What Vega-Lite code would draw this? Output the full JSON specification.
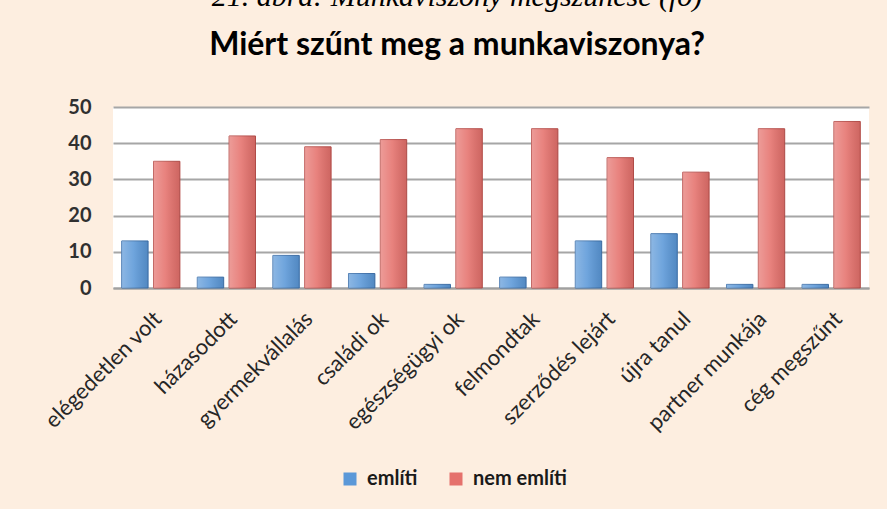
{
  "$schema": "https://vega.github.io/schema/vega-lite/v6.json",
  "autosize": {"type": "none"},
  "width": 756,
  "height": 181,
  "padding": {"left": 113, "top": 107, "right": 18, "bottom": 221},
  "background": "#fdeee0",
  "title": {
    "text": "21. ábra: Munkaviszony megszűnése (fő)",
    "subtitle": "Miért szűnt meg a munkaviszonya?",
    "anchor": "middle",
    "frame": "group",
    "dx": -34,
    "offset": 36,
    "font": "Liberation Serif",
    "fontStyle": "italic",
    "fontWeight": "normal",
    "fontSize": 30,
    "color": "#000000",
    "subtitleFont": "Lato",
    "subtitleFontWeight": "bold",
    "subtitleFontSize": 32,
    "subtitleColor": "#000000",
    "subtitlePadding": 18
  },
  "config": {
    "view": {"fill": "white", "stroke": null},
    "axis": {"labelFont": "Lato", "labelColor": "#404040", "labelFontSize": 20}
  },
  "data": {
    "values": [
      {"reason": "elégedetlen volt", "series": "említi", "value": 13},
      {"reason": "elégedetlen volt", "series": "nem említi", "value": 35},
      {"reason": "házasodott", "series": "említi", "value": 3},
      {"reason": "házasodott", "series": "nem említi", "value": 42},
      {"reason": "gyermekvállalás", "series": "említi", "value": 9},
      {"reason": "gyermekvállalás", "series": "nem említi", "value": 39},
      {"reason": "családi ok", "series": "említi", "value": 4},
      {"reason": "családi ok", "series": "nem említi", "value": 41},
      {"reason": "egészségügyi ok", "series": "említi", "value": 1},
      {"reason": "egészségügyi ok", "series": "nem említi", "value": 44},
      {"reason": "felmondtak", "series": "említi", "value": 3},
      {"reason": "felmondtak", "series": "nem említi", "value": 44},
      {"reason": "szerződés lejárt", "series": "említi", "value": 13},
      {"reason": "szerződés lejárt", "series": "nem említi", "value": 36},
      {"reason": "újra tanul", "series": "említi", "value": 15},
      {"reason": "újra tanul", "series": "nem említi", "value": 32},
      {"reason": "partner munkája", "series": "említi", "value": 1},
      {"reason": "partner munkája", "series": "nem említi", "value": 44},
      {"reason": "cég megszűnt", "series": "említi", "value": 1},
      {"reason": "cég megszűnt", "series": "nem említi", "value": 46}
    ]
  },
  "encoding": {
    "x": {
      "field": "reason",
      "type": "nominal",
      "sort": null,
      "title": null,
      "scale": {"paddingInner": 0.23, "paddingOuter": 0.115},
      "axis": {
        "labelAngle": -45,
        "ticks": false,
        "domainColor": "#a0a0a0",
        "domainWidth": 2,
        "labelPadding": 20,
        "labelFontSize": 22,
        "labelColor": "#262626"
      }
    },
    "xOffset": {
      "field": "series",
      "type": "nominal",
      "scale": {"paddingInner": 0.17}
    },
    "y": {
      "field": "value",
      "type": "quantitative",
      "title": null,
      "scale": {"domain": [0, 50], "nice": false},
      "axis": {
        "values": [0, 10, 20, 30, 40, 50],
        "ticks": false,
        "domain": false,
        "grid": true,
        "gridColor": "#a6a6a6",
        "gridWidth": 2,
        "labelPadding": 22,
        "labelColor": "#303030",
        "labelFontWeight": "bold"
      }
    }
  },
  "layer": [
    {
      "mark": {"type": "bar", "strokeWidth": 1},
      "encoding": {
        "color": {
          "field": "series",
          "type": "nominal",
          "scale": {"domain": ["említi", "nem említi"], "range": ["#5b98d8", "#e5716c"]},
          "legend": {
            "orient": "none",
            "legendX": 227,
            "legendY": 362,
            "direction": "horizontal",
            "title": null,
            "symbolType": "square",
            "symbolSize": 169,
            "symbolStrokeWidth": 0,
            "labelFont": "Lato",
            "labelFontSize": 20,
            "labelFontWeight": "bold",
            "labelColor": "#1a1a1a",
            "labelOffset": 7,
            "columnPadding": 28
          }
        },
        "stroke": {
          "field": "series",
          "type": "nominal",
          "scale": {"domain": ["említi", "nem említi"], "range": ["#3f72ac", "#b8504c"]},
          "legend": null
        }
      }
    },
    {
      "mark": {
        "type": "bar",
        "color": {
          "gradient": "linear",
          "x1": 0, "y1": 0, "x2": 1, "y2": 0,
          "stops": [
            {"offset": 0, "color": "rgba(255,255,255,0.30)"},
            {"offset": 0.45, "color": "rgba(255,255,255,0.12)"},
            {"offset": 1, "color": "rgba(0,0,0,0.10)"}
          ]
        }
      }
    }
  ]
}
